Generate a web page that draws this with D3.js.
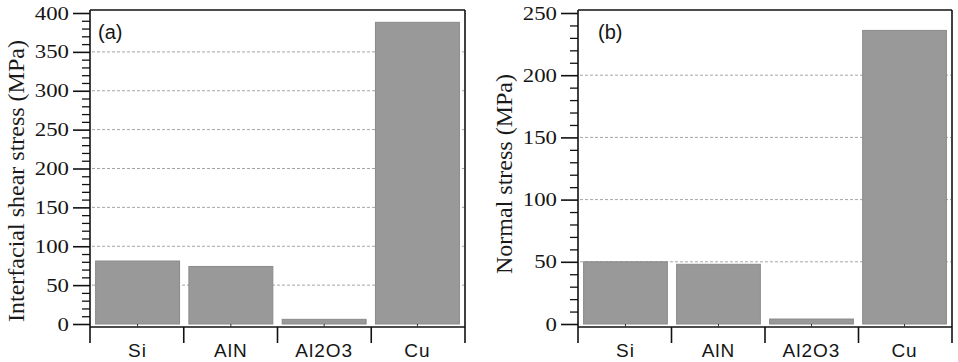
<!DOCTYPE html>
<html><head><meta charset="utf-8">
<script src="https://cdn.jsdelivr.net/npm/d3@7"></script>
<style>
html,body{margin:0;padding:0;background:#fff;}
svg{display:block;}
</style></head>
<body>
<svg id="chart" width="958" height="362"></svg>
<script>
const categories = ["Si", "AlN", "Al2O3", "Cu"];
const shearValues = [81, 74, 6, 388];
const normalValues = [50, 48, 4, 236];
const shearTicks = [0, 50, 100, 150, 200, 250, 300, 350, 400];
const normalTicks = [0, 50, 100, 150, 200, 250];
const panelLabels = ["(a)", "(b)"];
const yTitles = ["Interfacial shear stress (MPa)", "Normal stress (MPa)"];

const svg = d3.select("#chart");

const panels = [
  {x0: 90, x1: 465, values: shearValues, ticks: shearTicks, max: 400, label: panelLabels[0], labelDx: 8,
   title: yTitles[0], titleX: 24, titleY: 181},
  {x0: 578, x1: 952, values: normalValues, ticks: normalTicks, max: 250, label: panelLabels[1], labelDx: 20,
   title: yTitles[1], titleX: 512, titleY: 174}
];

const frameTop = 10, axisY = 327, zeroY = 324, maxY = 13, catTickEnd = 343;
const serif = "'Liberation Serif', 'Times New Roman', serif";
const sans = "'Liberation Sans', Arial, sans-serif";
const stretch = 1.2;

panels.forEach(p => {
  const g = svg.append("g");
  const y = d3.scaleLinear().domain([0, p.max]).range([zeroY, maxY]);
  const x = d3.scaleBand().domain(categories).range([p.x0, p.x1]).paddingInner(0.1).paddingOuter(0.06);
  const bound = d3.scaleLinear().domain([0, categories.length]).range([p.x0, p.x1]);

  // gridlines
  g.append("g").selectAll("line")
    .data(p.ticks.filter(t => t > 0 && t < p.max))
    .join("line")
    .attr("x1", p.x0 + 2).attr("x2", p.x1 - 1)
    .attr("y1", d => y(d)).attr("y2", d => y(d))
    .attr("stroke", "#a5a5a5").attr("stroke-width", 1)
    .attr("stroke-dasharray", "3,2");

  // bars
  g.append("g").selectAll("rect")
    .data(categories.map((c, i) => ({c, v: p.values[i]})))
    .join("rect")
    .attr("x", d => x(d.c)).attr("width", x.bandwidth())
    .attr("y", d => y(d.v)).attr("height", d => y(0) - y(d.v))
    .attr("fill", "#999999").attr("stroke", "#8a8a8a").attr("stroke-width", 1);

  // minor ticks
  const minor = d3.range(0, p.max + 0.001, 10).filter(v => v % 50 !== 0);
  const minorAxis = d3.axisLeft(y).tickValues(minor).tickSize(8).tickFormat("");
  g.append("g").attr("transform", `translate(${p.x0},0)`).call(minorAxis)
    .call(s => s.select(".domain").remove())
    .call(s => s.selectAll("line").attr("stroke", "#111").attr("stroke-width", 1.3));

  // major ticks
  const majorAxis = d3.axisLeft(y).tickValues(p.ticks).tickSize(17).tickPadding(4).tickFormat(d3.format("d"));
  g.append("g").attr("transform", `translate(${p.x0},0)`).call(majorAxis)
    .call(s => s.select(".domain").remove())
    .call(s => s.selectAll("line").attr("stroke", "#111").attr("stroke-width", 1.6))
    .call(s => s.selectAll("text").attr("font-family", serif)
      .attr("font-size", 19).attr("fill", "#151515")
      .attr("x", -21 / stretch)
      .attr("transform", `scale(${stretch},1)`));

  // frame
  g.append("line").attr("x1", p.x0).attr("x2", p.x0).attr("y1", frameTop).attr("y2", catTickEnd)
    .attr("stroke", "#111").attr("stroke-width", 1.6);
  g.append("line").attr("x1", p.x0).attr("x2", p.x1).attr("y1", frameTop).attr("y2", frameTop)
    .attr("stroke", "#111").attr("stroke-width", 1.6);
  g.append("line").attr("x1", p.x1).attr("x2", p.x1).attr("y1", frameTop).attr("y2", catTickEnd)
    .attr("stroke", "#111").attr("stroke-width", 1.6);
  g.append("line").attr("x1", p.x0).attr("x2", p.x1).attr("y1", axisY).attr("y2", axisY)
    .attr("stroke", "#111").attr("stroke-width", 1.6);

  // category boundary ticks
  g.append("g").selectAll("line")
    .data(d3.range(1, categories.length))
    .join("line")
    .attr("x1", d => bound(d)).attr("x2", d => bound(d))
    .attr("y1", axisY).attr("y2", catTickEnd)
    .attr("stroke", "#111").attr("stroke-width", 1.6);
  // small center ticks
  g.append("g").selectAll("line")
    .data(categories)
    .join("line")
    .attr("x1", d => x(d) + x.bandwidth() / 2).attr("x2", d => x(d) + x.bandwidth() / 2)
    .attr("y1", axisY).attr("y2", axisY - 3)
    .attr("stroke", "#333").attr("stroke-width", 1);

  // category labels
  g.append("g").selectAll("text")
    .data(categories)
    .join("text")
    .attr("x", d => x(d) + x.bandwidth() / 2)
    .attr("y", 357)
    .attr("text-anchor", "middle")
    .attr("font-family", sans)
    .attr("font-size", 19)
    .attr("letter-spacing", 1)
    .attr("fill", "#151515")
    .text(d => d);

  // panel label
  g.append("text").attr("x", p.x0 + p.labelDx).attr("y", 39)
    .attr("font-family", sans)
    .attr("font-size", 20).attr("fill", "#151515")
    .text(p.label);

  // y title
  g.append("text")
    .attr("transform", `translate(${p.titleX},${p.titleY}) rotate(-90)`)
    .attr("text-anchor", "middle")
    .attr("font-family", serif)
    .attr("font-size", 24).attr("fill", "#1a1a1a")
    .text(p.title);
});
</script>
</body></html>
